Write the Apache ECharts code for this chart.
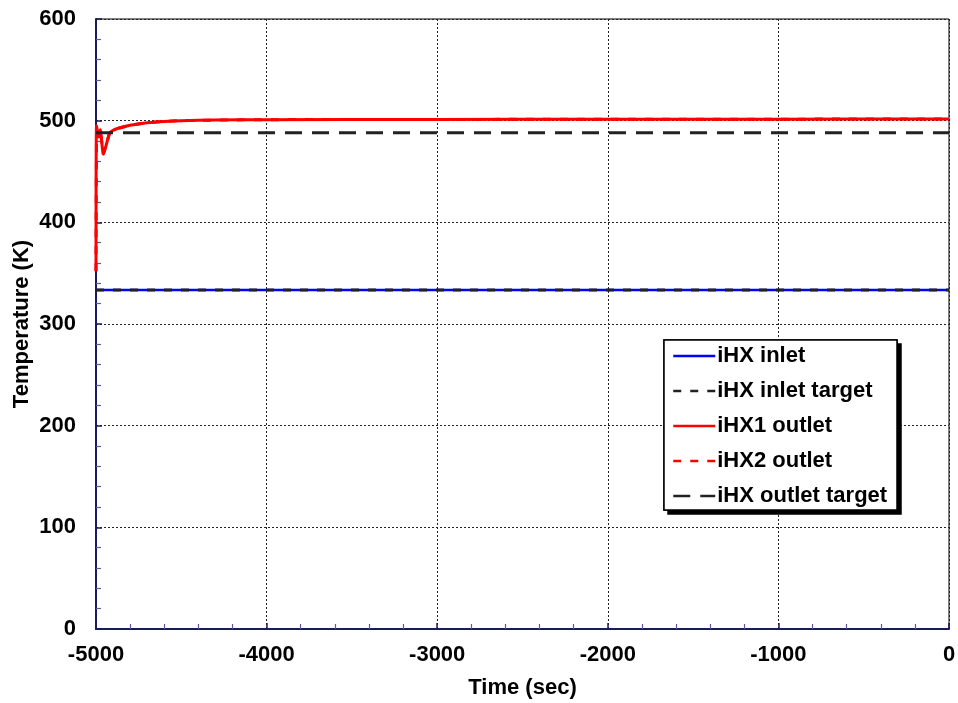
<!DOCTYPE html>
<html>
<head>
<meta charset="utf-8">
<script src="https://cdn.jsdelivr.net/npm/echarts@6/dist/echarts.min.js"></script>
<style>
  html, body { margin: 0; padding: 0; background: #fff; }
  #chart { width: 958px; height: 703px; }
</style>
</head>
<body>
<div id="chart"></div>
<script>
// Time axis (seconds) and temperature traces (K)
const inletTime = [-5000, 0];
const inletTemp = [333.5, 333.5];
const inletTargetTemp = [333.5, 333.5];

const outletTime = [-5000, -4997, -4984, -4975, -4957, -4942, -4920, -4900, -4870,
                    -4800, -4700, -4600, -4500, -4300, -4000, -3000, -2000, -1000, 0];
const outlet1Temp = [352, 495, 484, 491, 467, 475, 488, 490.5, 492.5,
                     495.5, 498, 499.3, 500, 500.6, 501, 501.2, 501.4, 501.5, 501.6];
const outlet2Temp = [352, 495, 484, 491, 467, 475, 488, 490.5, 492.5,
                     495.5, 498, 499.3, 500, 500.6, 501, 501.2, 501.4, 501.5, 501.6];

const outletTargetTime = [-5000, 0];
const outletTargetTemp = [488, 488];

const seriesNames = ['iHX inlet', 'iHX inlet target', 'iHX1 outlet', 'iHX2 outlet', 'iHX outlet target'];

const zip = (xs, ys) => xs.map((x, i) => [x, ys[i]]);
const FONT = 'Arial, "Liberation Sans", sans-serif';
const AXIS_COLOR = '#1a1a5e';
const LABEL = { fontFamily: FONT, fontWeight: 'bold', fontSize: 22, color: '#000' };

const chart = echarts.init(document.getElementById('chart'), null, { renderer: 'canvas' });

chart.setOption({
  animation: false,
  backgroundColor: '#fff',
  grid: {
    left: 96, right: 9, top: 19, bottom: 74,
    outerBoundsMode: 'none',
    containLabel: false,
    show: true, borderColor: '#000', borderWidth: 1, backgroundColor: 'transparent'
  },
  // legend frame with drop shadow
  graphic: [{
    type: 'rect', z: 90,
    shape: { x: 664, y: 340, width: 233, height: 170 },
    style: { fill: '#fff', stroke: '#000', lineWidth: 1.5,
             shadowColor: '#000', shadowBlur: 0, shadowOffsetX: 4, shadowOffsetY: 4 }
  }, {
    type: 'rect', z: 91,
    shape: { x: 664, y: 340, width: 233, height: 170 },
    style: { fill: '#fff', stroke: '#000', lineWidth: 1.5 }
  }],
  xAxis: {
    type: 'value',
    min: -5000, max: 0, interval: 1000,
    name: 'Time (sec)',
    nameLocation: 'middle',
    nameMoveOverlap: false,
    nameGap: 48,
    nameTextStyle: LABEL,
    axisLine: { show: true, onZero: false, lineStyle: { color: AXIS_COLOR, width: 2 } },
    axisTick: { show: true, inside: true, length: 6, lineStyle: { color: AXIS_COLOR, width: 1.5 } },
    minorTick: { show: true, splitNumber: 5, length: 5, lineStyle: { color: '#5a5a9a', width: 1.2 } },
    axisLabel: Object.assign({ margin: 15, formatter: v => String(v) }, LABEL),
    splitLine: { show: true, lineStyle: { color: '#222', width: 1, type: [2, 2] } }
  },
  yAxis: {
    type: 'value',
    min: 0, max: 600, interval: 100,
    name: 'Temperature (K)',
    nameLocation: 'middle',
    nameMoveOverlap: false,
    nameGap: 63,
    nameTextStyle: LABEL,
    axisLine: { show: true, onZero: false, lineStyle: { color: AXIS_COLOR, width: 2 } },
    axisTick: { show: true, inside: true, length: 6, lineStyle: { color: AXIS_COLOR, width: 1.5 } },
    minorTick: { show: true, splitNumber: 5, length: 5, lineStyle: { color: '#5a5a9a', width: 1.2 } },
    axisLabel: Object.assign({ margin: 20 }, LABEL),
    splitLine: { show: true, lineStyle: { color: '#222', width: 1, type: [2, 2] } }
  },
  legend: {
    data: seriesNames,
    orient: 'vertical',
    left: 664, top: 341,
    z: 100,
    padding: [4, 6, 4, 8],
    itemWidth: 42, itemHeight: 22,
    itemGap: 13,
    selectedMode: false,
    itemStyle: { opacity: 0 },
    lineStyle: { width: 2.5 },
    textStyle: Object.assign({ lineHeight: 22, padding: [0, 0, 0, -3] }, LABEL)
  },
  series: [
    {
      name: seriesNames[0], type: 'line', showSymbol: false, symbol: 'none',
      data: zip(inletTime, inletTemp), z: 3,
      lineStyle: { color: '#0000ff', width: 2.5 }, itemStyle: { color: '#0000ff' }
    },
    {
      name: seriesNames[1], type: 'line', showSymbol: false, symbol: 'none',
      data: zip(inletTime, inletTargetTemp), z: 4,
      lineStyle: { color: '#222', width: 3, type: [8, 9] }, itemStyle: { color: '#222' }
    },
    {
      name: seriesNames[3], type: 'line', showSymbol: false, symbol: 'none',
      data: zip(outletTime, outlet2Temp), z: 2,
      lineStyle: { color: '#ff0000', width: 3, type: [8, 9] }, itemStyle: { color: '#ff0000' }
    },
    {
      name: seriesNames[2], type: 'line', showSymbol: false, symbol: 'none',
      data: zip(outletTime, outlet1Temp), z: 3, smooth: 0.2,
      lineStyle: { color: '#ff0000', width: 3 }, itemStyle: { color: '#ff0000' }
    },
    {
      name: seriesNames[4], type: 'line', showSymbol: false, symbol: 'none',
      data: zip(outletTargetTime, outletTargetTemp), z: 4,
      lineStyle: { color: '#222', width: 3, type: [17, 10] }, itemStyle: { color: '#222' }
    }
  ]
});
</script>
</body>
</html>
